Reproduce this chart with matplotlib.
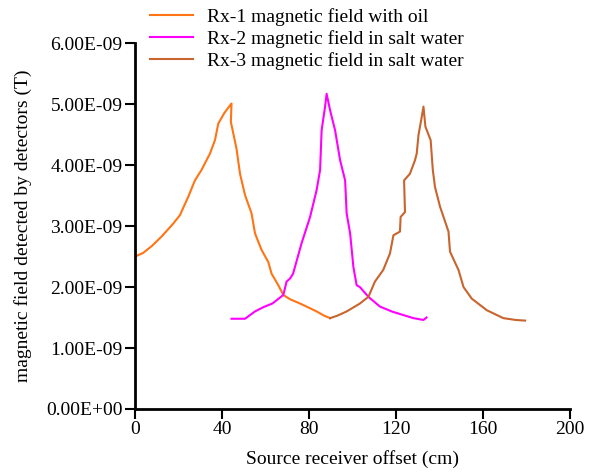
import matplotlib.pyplot as plt
from matplotlib.ticker import FuncFormatter

plt.rcParams['font.family'] = ['Liberation Serif', 'DejaVu Serif']

# offset (cm) and field (nT)
rx1_x = [0, 3.8, 8, 12.3, 17.6, 20.7, 24.5, 27.6, 30.6, 34.5, 36.8, 38.3, 41, 43.7, 44.4,
         44.1, 46.7, 48.3, 50.6, 53.6, 55.2, 58.2, 61.3, 62.8, 65.9, 68.2, 71.3, 75.9,
         80, 83.5, 87, 89.7]
rx1_y = [2.50, 2.56, 2.68, 2.83, 3.04, 3.18, 3.48, 3.75, 3.92, 4.19, 4.41, 4.68, 4.85, 4.98, 5.01,
         4.71, 4.27, 3.86, 3.51, 3.21, 2.88, 2.61, 2.41, 2.22, 2.03, 1.87, 1.80, 1.73,
         1.66, 1.60, 1.53, 1.49]

rx2_x = [44.4, 50.6, 55.2, 59, 63.2, 68.2, 69.7, 71.3, 72.7, 76.6, 80.5, 83.5, 85.1, 85.8,
         87.4, 88.1, 89.7, 92, 94.3, 96.6, 97.3, 98.9, 100.4, 101.9, 103.4, 107.3, 112.6,
         118, 123.4, 128, 132.6, 134]
rx2_y = [1.48, 1.48, 1.60, 1.67, 1.73, 1.87, 2.09, 2.14, 2.22, 2.72, 3.15, 3.59, 3.92, 4.57,
         4.96, 5.17, 4.90, 4.57, 4.08, 3.75, 3.21, 2.88, 2.33, 2.03, 2.00, 1.84, 1.68,
         1.60, 1.54, 1.49, 1.46, 1.50]

rx3_x = [89.7, 93, 97.3, 103.4, 107.3, 110.3, 114.1, 117.2, 118.8, 121.8, 122.1, 124.1, 123.7,
         126.4, 128.7, 129.5, 130.3, 131.8, 132.6, 133.5, 135.9, 136.9, 137.9, 140.2, 144.1,
         144.8, 148.7, 151, 154.8, 161.7, 169.3, 175, 179.3]
rx3_y = [1.49, 1.53, 1.60, 1.73, 1.84, 2.09, 2.28, 2.55, 2.85, 2.91, 3.15, 3.23, 3.75,
         3.86, 4.08, 4.19, 4.49, 4.79, 4.96, 4.63, 4.41, 3.92, 3.64, 3.32, 2.91,
         2.58, 2.28, 2.00, 1.81, 1.62, 1.49, 1.46, 1.45]

labels = ['Rx-1 magnetic field with oil',
          'Rx-2 magnetic field in salt water',
          'Rx-3 magnetic field in salt water']
colors = ['#ff7415', '#ff00ff', '#c8642d']


def main():
    fig = plt.figure(figsize=(5.89, 4.75), dpi=100)
    ax = fig.add_axes([0.229, 0.139, 0.739, 0.77])

    for xs, ys, lab, col in zip([rx1_x, rx2_x, rx3_x], [rx1_y, rx2_y, rx3_y], labels, colors):
        ax.plot(xs, [v * 1e-9 for v in ys], color=col, lw=1.5, label=lab)

    ax.set_xlim(0, 200)
    ax.set_ylim(0, 6e-9)
    ax.set_xticks([0, 40, 80, 120, 160, 200])
    ax.set_yticks([i * 1e-9 for i in range(7)])
    ax.yaxis.set_major_formatter(FuncFormatter(lambda v, p: f"{v:.2E}"))

    for s in ['top', 'right']:
        ax.spines[s].set_visible(False)
    for s in ['left', 'bottom']:
        ax.spines[s].set_linewidth(2)
    ax.tick_params(width=1.5, length=7, labelsize=14, direction='out', pad=2)

    ax.set_xlabel('Source receiver offset (cm)', fontsize=14, labelpad=8)
    ax.set_ylabel('magnetic field detected by detectors (T)', fontsize=14, labelpad=10)

    fig.legend(loc='upper left', bbox_to_anchor=(0.2547, 0.983), frameon=False,
               fontsize=14, handlelength=2.2, labelspacing=0.22, handletextpad=0.75,
               borderpad=0, borderaxespad=0)

    fig.savefig('out.png', dpi=100)


if __name__ == "__main__":
    main()
